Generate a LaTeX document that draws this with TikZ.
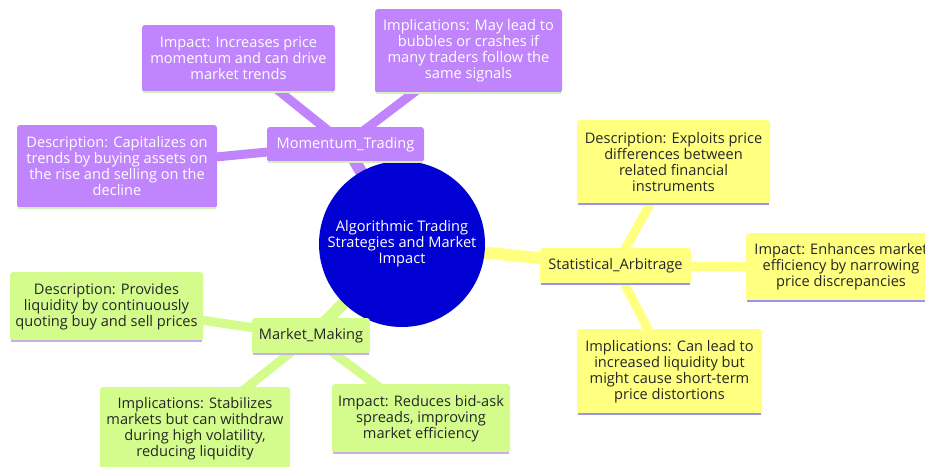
\documentclass[tikz,border=0pt]{standalone}
\usepackage{fontspec}
\setmainfont{Open Sans}
\usetikzlibrary{backgrounds}

\definecolor{mompurple}{RGB}{192,132,252}
\definecolor{arbyellow}{RGB}{255,255,128}
\definecolor{mmgreen}{RGB}{212,252,140}
\definecolor{rootblue}{RGB}{0,0,210}
\definecolor{momedge}{RGB}{210,240,190}
\definecolor{arbedge}{RGB}{150,150,240}
\definecolor{mmedge}{RGB}{200,175,235}

\tikzset{
    leaf/.style={rectangle, rounded corners=3pt, inner sep=0pt, align=center,
        font=\fontsize{14.6}{16}\selectfont},
    mom/.style={leaf, fill=mompurple, text=white},
    arb/.style={leaf, fill=arbyellow, text=black!85},
    mm/.style={leaf, fill=mmgreen, text=black!85},
    root/.style={circle, fill=rootblue, text=white, minimum size=166pt,
        inner sep=0pt, align=center, font=\fontsize{14.6}{16}\selectfont},
    trunk/.style={draw=#1, line width=12pt},
    twig/.style={draw=#1, line width=9pt},
    underline/.style={draw=#1, line width=2pt}
}

\begin{document}
\begin{tikzpicture}[x=1pt, y=-1pt]
    \useasboundingbox (0,0) rectangle (925,466);

    % Root
    \node[root] (root) at (402,244) {Algorithmic Trading\\Strategies and Market\\Impact};

    % Momentum trading branch
    \node[mom, minimum width=157pt, minimum height=35pt] (momentum) at (345.5,144.5) {Momentum\_Trading};
    \node[mom, minimum width=193pt, minimum height=67pt] (momimpact) at (238.5,58.5)
        {Impact: Increases price\\momentum and can drive\\market trends};
    \node[mom, minimum width=187pt, minimum height=84pt] (momimpl) at (468.5,51)
        {Implications: May lead to\\bubbles or crashes if\\many traders follow the\\same signals};
    \node[mom, minimum width=200pt, minimum height=83pt] (momdesc) at (117,166.5)
        {Description: Capitalizes on\\trends by buying assets on\\the rise and selling on the\\decline};

    % Statistical arbitrage branch
    \node[arb, minimum width=151pt, minimum height=36pt] (arbitrage) at (615.5,266) {Statistical\_Arbitrage};
    \node[arb, minimum width=193pt, minimum height=84pt] (arbdesc) at (673.5,162)
        {Description: Exploits price\\differences between\\related financial\\instruments};
    \node[arb, minimum width=190pt, minimum height=68pt] (arbimpact) at (841,267)
        {Impact: Enhances market\\efficiency by narrowing\\price discrepancies};
    \node[arb, minimum width=185pt, minimum height=85pt] (arbimpl) at (669.5,371.5)
        {Implications: Can lead to\\increased liquidity but\\might cause short-term\\price distortions};

    % Market making branch
    \node[mm, minimum width=118pt, minimum height=36pt] (making) at (311,336) {Market\_Making};
    \node[mm, minimum width=193pt, minimum height=69pt] (mmdesc) at (106.5,306.5)
        {Description: Provides\\liquidity by continuously\\quoting buy and sell prices};
    \node[mm, minimum width=190pt, minimum height=84pt] (mmimpl) at (195,429)
        {Implications: Stabilizes\\markets but can withdraw\\during high volatility,\\reducing liquidity};
    \node[mm, minimum width=178pt, minimum height=69pt] (mmimpact) at (421,418.5)
        {Impact: Reduces bid-ask\\spreads, improving\\market efficiency};

    % Bottom rules under the boxes
    \foreach \n in {momentum, momimpact, momimpl, momdesc}
        \draw[underline=momedge] ([xshift=1pt]\n.south west) -- ([xshift=-1pt]\n.south east);
    \foreach \n in {arbitrage, arbdesc, arbimpact, arbimpl}
        \draw[underline=arbedge] ([xshift=1pt]\n.south west) -- ([xshift=-1pt]\n.south east);
    \foreach \n in {making, mmdesc, mmimpl, mmimpact}
        \draw[underline=mmedge] ([xshift=1pt]\n.south west) -- ([xshift=-1pt]\n.south east);

    % Branches
    \begin{scope}[on background layer]
        \draw[trunk=mompurple] (root.center) -- (momentum.center);
        \draw[trunk=arbyellow] (root.center) -- (arbitrage.center);
        \draw[trunk=mmgreen] (root.center) -- (making.center);

        \draw[twig=mompurple] (momentum.center) -- (momimpact.center);
        \draw[twig=mompurple] (momentum.center) -- (momimpl.center);
        \draw[twig=mompurple] (momentum.center) -- (momdesc.center);

        \draw[twig=arbyellow] (arbitrage.center) -- (arbdesc.center);
        \draw[twig=arbyellow] (arbitrage.center) -- (arbimpact.center);
        \draw[twig=arbyellow] (arbitrage.center) -- (arbimpl.center);

        \draw[twig=mmgreen] (making.center) -- (mmdesc.center);
        \draw[twig=mmgreen] (making.center) -- (mmimpl.center);
        \draw[twig=mmgreen] (making.center) -- (mmimpact.center);
    \end{scope}
\end{tikzpicture}
\end{document}
